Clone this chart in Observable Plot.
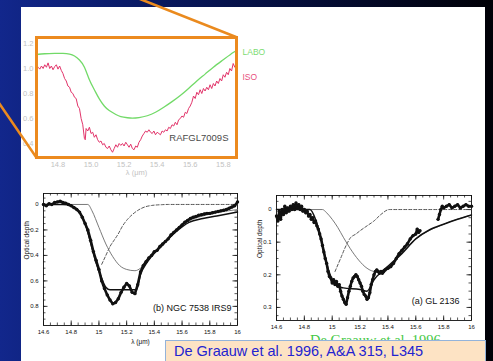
<!DOCTYPE html>
<html><head><meta charset="utf-8">
<script src="https://cdn.jsdelivr.net/npm/d3@7"></script>
<script src="https://cdn.jsdelivr.net/npm/@observablehq/plot@0.6"></script>
<style>
html,body{margin:0;padding:0;background:#000;}
#page{position:relative;width:493px;height:361px;overflow:hidden;background:linear-gradient(to right,#12278c 0%,#0a1b68 25%,#040c34 65%,#000006 100%);font-family:"Liberation Sans",Arial,sans-serif;}
#panel{position:absolute;left:21px;top:7px;width:464px;height:354px;background:#fff;}
.pl{position:absolute;}
#cap{position:absolute;left:165px;top:340px;width:321px;height:30px;background:#fde3c4;border:1px solid #93b3da;box-sizing:border-box;color:#2323d0;font-size:14.5px;line-height:16px;padding:2px 0 0 8px;white-space:nowrap;}
#ghost{position:absolute;left:310px;top:332px;font:14.5px "Liberation Serif",serif;line-height:16px;color:#44c844;white-space:nowrap;}
#conn{position:absolute;left:0;top:0;}
</style></head><body>
<div id="page">
<div id="panel"></div>
<div id="top" class="pl" style="left:0;top:0"></div>
<div id="ngc" class="pl" style="left:0;top:185px"></div>
<div id="gl" class="pl" style="left:245px;top:185px"></div>
<div id="ghost">De Graauw et al. 1996</div>
<div id="cap">De Graauw et al. 1996, A&amp;A 315, L345</div>
<svg id="conn" width="493" height="361"><g stroke="#ea8a1e" stroke-width="2.5" stroke-linecap="round"><line x1="140" y1="-1" x2="236" y2="37"/><line x1="-1" y1="103" x2="36" y2="157"/></g></svg>
</div>
<script>
// ---- Top inset: RAFGL7009S ----
const laboX = [14.67,14.72,14.78,14.83,14.87,14.90,14.93,14.96,14.99,15.02,15.05,15.08,15.11,15.15,15.18,15.22,15.25,15.29,15.34,15.39,15.44,15.49,15.54,15.59,15.64,15.69,15.74,15.80,15.86,15.88];
const laboY = [1.112,1.118,1.121,1.121,1.115,1.100,1.068,1.01,0.91,0.83,0.757,0.70,0.664,0.632,0.615,0.606,0.603,0.607,0.622,0.650,0.690,0.735,0.784,0.840,0.900,0.955,1.010,1.070,1.128,1.14];
const isoX = [14.67,14.68,14.69,14.70,14.71,14.72,14.73,14.74,14.75,14.76,14.77,14.78,14.79,14.80,14.81,14.82,14.83,14.84,14.85,14.86,14.87,14.88,14.89,14.90,14.91,14.92,14.93,14.94,14.95,14.96,14.965,14.97,14.98,14.99,15.00,15.01,15.02,15.03,15.04,15.05,15.06,15.07,15.08,15.09,15.10,15.11,15.12,15.13,15.14,15.15,15.16,15.17,15.18,15.19,15.20,15.21,15.22,15.23,15.24,15.25,15.26,15.27,15.28,15.29,15.30,15.31,15.32,15.33,15.34,15.35,15.36,15.37,15.38,15.39,15.40,15.41,15.42,15.43,15.44,15.45,15.46,15.47,15.48,15.49,15.50,15.51,15.52,15.53,15.54,15.55,15.56,15.57,15.58,15.59,15.60,15.61,15.62,15.63,15.64,15.65,15.66,15.67,15.68,15.69,15.70,15.71,15.72,15.73,15.74,15.75,15.76,15.77,15.78,15.79,15.80,15.81,15.82,15.83,15.84,15.85,15.86,15.87];
const isoY = [1.00,1.01,0.995,1.02,1.00,1.03,1.01,1.045,1.00,1.02,0.99,1.015,1.03,0.995,1.02,0.985,0.96,0.92,0.90,0.86,0.85,0.81,0.80,0.77,0.76,0.70,0.68,0.60,0.55,0.44,0.43,0.52,0.50,0.53,0.48,0.49,0.45,0.47,0.43,0.41,0.42,0.39,0.40,0.37,0.36,0.38,0.35,0.33,0.36,0.39,0.37,0.40,0.385,0.40,0.38,0.41,0.39,0.37,0.395,0.36,0.35,0.38,0.37,0.41,0.43,0.46,0.48,0.50,0.49,0.51,0.49,0.48,0.50,0.47,0.49,0.48,0.47,0.50,0.49,0.51,0.50,0.53,0.52,0.55,0.54,0.57,0.55,0.59,0.60,0.62,0.61,0.65,0.64,0.68,0.70,0.73,0.78,0.76,0.81,0.79,0.83,0.80,0.84,0.82,0.85,0.83,0.87,0.84,0.88,0.86,0.90,0.88,0.92,0.90,0.95,0.93,0.97,0.95,1.00,0.98,1.04,1.01];
const topXTicks = [14.8,15.0,15.2,15.4,15.6,15.8];
const topYTicks = [0.4,0.6,0.8,1.0,1.2];

// ---- (b) NGC 7538 IRS9 ----
const ngcX = [14.60,14.62,14.64,14.66,14.68,14.70,14.72,14.74,14.76,14.78,14.80,14.82,14.84,14.86,14.88,14.90,14.92,14.94,14.96,14.98,15.00,15.02,15.04,15.06,15.08,15.10,15.12,15.14,15.16,15.18,15.20,15.22,15.24,15.26,15.28,15.30,15.32,15.34,15.36,15.38,15.40,15.42,15.44,15.46,15.48,15.50,15.52,15.54,15.56,15.58,15.60,15.62,15.64,15.66,15.68,15.70,15.72,15.74,15.76,15.78,15.80,15.82,15.84,15.86,15.88,15.90,15.92,15.94,15.96,15.98,16.00];
const ngcY = [0.00,0.01,-0.005,0.00,-0.015,-0.02,-0.025,-0.015,-0.01,0.00,0.01,0.025,0.04,0.06,0.10,0.15,0.20,0.28,0.37,0.44,0.51,0.60,0.66,0.71,0.75,0.78,0.77,0.74,0.69,0.65,0.62,0.64,0.69,0.70,0.63,0.53,0.48,0.45,0.42,0.40,0.37,0.36,0.33,0.31,0.29,0.27,0.24,0.22,0.20,0.18,0.16,0.14,0.125,0.11,0.10,0.095,0.085,0.08,0.075,0.07,0.07,0.065,0.06,0.055,0.05,0.045,0.04,0.03,0.02,0.01,-0.02];
const ngcFitX = [14.60,14.74,14.80,14.86,14.90,14.94,14.98,15.02,15.05,15.08,15.27,15.30,15.35,15.45,15.55,15.65,15.75,15.85,16.00];
const ngcFitY = [0,0,0.01,0.06,0.15,0.30,0.46,0.58,0.65,0.67,0.67,0.55,0.45,0.33,0.22,0.14,0.11,0.09,0.06];
const ngcThinX = [14.60,14.92,14.95,15.00,15.05,15.10,15.15,15.20,15.26,15.30,15.35,15.45,15.55,15.65,15.75,15.85,16.00];
const ngcThinY = [0,0,0.05,0.18,0.31,0.41,0.48,0.51,0.52,0.50,0.44,0.32,0.21,0.13,0.09,0.065,0.04];
const ngcDashX = [15.02,15.05,15.08,15.11,15.14,15.17,15.20,15.24,15.28,15.33,15.38,15.45,15.50,16.00];
const ngcDashY = [0.47,0.40,0.33,0.28,0.23,0.17,0.125,0.08,0.047,0.02,0.008,0.002,0,0];
const ngcYTicks = [0,0.2,0.4,0.6,0.8];

// ---- (a) GL 2136 ----
const glX = [14.60,14.61,14.62,14.63,14.64,14.65,14.66,14.67,14.68,14.69,14.70,14.71,14.72,14.73,14.74,14.75,14.76,14.77,14.78,14.79,14.80,14.81,14.82,14.83,14.84,14.85,14.86,14.87,14.88,14.89,14.90,14.91,14.92,14.93,14.94,14.95,14.96,14.97,14.98,14.99,15.00,15.01,15.02,15.03,15.04,15.05,15.06,15.07,15.08,15.09,15.10,15.11,15.12,15.13,15.14,15.15,15.16,15.17,15.18,15.19,15.20,15.21,15.22,15.23,15.24,15.25,15.26,15.27,15.28,15.29,15.30,15.31,15.32,15.33,15.34,15.35,15.36,15.37,15.38,15.40,15.42,15.44,15.46,15.48,15.50,15.52,15.54,15.56,15.58,15.60,15.61,15.62,15.63,15.70,15.76,15.77,15.78,15.79,15.80,15.82,15.84,15.86,15.88,15.90,15.92,15.94,15.96,15.98,16.00];
const glY = [0.02,0.035,0.005,0.03,0.00,0.015,-0.01,0.01,-0.005,0.005,-0.01,0.00,-0.015,0.00,-0.02,-0.005,-0.015,0.00,-0.01,0.005,0.00,0.01,0.005,0.02,0.015,0.03,0.025,0.04,0.035,0.05,0.06,0.075,0.09,0.11,0.13,0.15,0.165,0.19,0.205,0.21,0.225,0.215,0.23,0.22,0.235,0.23,0.25,0.265,0.275,0.285,0.29,0.27,0.25,0.235,0.22,0.21,0.205,0.20,0.205,0.215,0.225,0.235,0.25,0.26,0.265,0.275,0.27,0.255,0.23,0.215,0.20,0.19,0.185,0.19,0.195,0.19,0.195,0.19,0.185,0.18,0.175,0.165,0.15,0.135,0.125,0.115,0.105,0.09,0.08,0.075,0.06,0.07,0.065,null,0.03,0.015,0.00,-0.01,-0.005,-0.01,-0.015,-0.005,-0.01,-0.015,-0.005,-0.01,-0.015,-0.01,-0.01];
const glFitX = [14.60,14.84,14.88,14.92,14.96,15.00,15.04,15.08,15.20,15.25,15.30,15.37,15.45,15.50,15.60,15.70,15.80,15.90,16.00];
const glFitY = [0,0,0.03,0.09,0.165,0.215,0.235,0.24,0.245,0.25,0.215,0.185,0.155,0.135,0.09,0.062,0.045,0.03,0.017];
const glThinX = [14.60,14.93,14.96,15.00,15.04,15.08,15.13,15.19,15.25,15.31,15.37,15.45,15.60,15.80,16.00];
const glThinY = [0,0,0.01,0.03,0.055,0.085,0.12,0.155,0.18,0.19,0.185,0.155,0.09,0.045,0.017];
const glDashX = [15.02,15.06,15.10,15.13,15.17,15.20,15.25,15.30,15.35,15.41,15.76,16.00];
const glDashY = [0.19,0.15,0.11,0.087,0.075,0.065,0.05,0.035,0.015,0.0,0.0,0.0];
const glYTicks = [0,0.1,0.2,0.3];

const lowerXTicks = [14.6,14.8,15,15.2,15.4,15.6,15.8,16];

const zip = (xs, ys) => xs.map((x, i) => ({x, y: ys[i]}));
const fmtX = d => String(Math.round(d * 10) / 10);

// Top inset
const topPlot = Plot.plot({
  width: 270, height: 180, marginLeft: 36, marginRight: 34, marginTop: 37, marginBottom: 23,
  style: {background: "transparent", fontFamily: "Liberation Sans, Arial, sans-serif", fontSize: "7.5px", color: "#c2c2c2", overflow: "visible"},
  x: {domain: [14.67, 15.88], ticks: topXTicks, tickFormat: d => d.toFixed(1), tickSize: 0, tickPadding: 4, label: null},
  y: {domain: [0.288, 1.248], ticks: topYTicks, tickFormat: d => d.toFixed(1), tickSize: 0, tickPadding: 3, label: null},
  marks: [
    Plot.line(zip(laboX, laboY), {x: "x", y: "y", stroke: "#72da68", strokeWidth: 1.3, curve: "natural"}),
    Plot.line(zip(isoX, isoY), {x: "x", y: "y", stroke: "#e2346a", strokeWidth: 1}),
    Plot.text(["RAFGL7009S"], {text: d => d, frameAnchor: "bottom-right", dx: -8, dy: -17, textAnchor: "end", fill: "#4a4a4a", fontSize: 9.5}),
    Plot.text(["LABO"], {text: d => d, frameAnchor: "top-right", dx: 6, dy: 11, textAnchor: "start", fill: "#7ddc72", fontSize: 8.5}),
    Plot.text(["ISO"], {text: d => d, frameAnchor: "top-right", dx: 6, dy: 36, textAnchor: "start", fill: "#e8507e", fontSize: 8.5}),
    Plot.text(["λ (μm)"], {text: d => d, frameAnchor: "bottom", dy: 17.5, fill: "#c2c2c2", fontSize: 7.5}),
    Plot.frame({stroke: "#ec8a1f", strokeWidth: 3})
  ]
});
document.getElementById("top").appendChild(topPlot);

function lowerPanel({w, h, ml, mr, mt, mb, yDomain, yTicks, yMinorStep, obsX, obsY, fitX, fitY, thinX, thinY, dashX, dashY, label, labelDx, labelDy, xLabel}) {
  const iw = w - ml - mr, ih = h - mt - mb;
  const xMinor = d3.range(14.6, 16.0001, 0.05);
  const yMinor = d3.range(Math.ceil(yDomain[0] / yMinorStep) * yMinorStep, yDomain[1], yMinorStep);
  const marks = [
    Plot.frame({stroke: "#111", strokeWidth: 0.9}),
    Plot.tickX(xMinor, {x: d => d, insetTop: ih - 2.5, stroke: "#111", strokeWidth: 0.7}),
    Plot.tickX(xMinor, {x: d => d, insetBottom: ih - 2.5, stroke: "#111", strokeWidth: 0.7}),
    Plot.tickX(lowerXTicks, {x: d => d, insetTop: ih - 4.5, stroke: "#111", strokeWidth: 0.8}),
    Plot.tickX(lowerXTicks, {x: d => d, insetBottom: ih - 4.5, stroke: "#111", strokeWidth: 0.8}),
    Plot.tickY(yMinor, {y: d => d, insetRight: iw - 2.5, stroke: "#111", strokeWidth: 0.7}),
    Plot.tickY(yMinor, {y: d => d, insetLeft: iw - 2.5, stroke: "#111", strokeWidth: 0.7}),
    Plot.tickY(yTicks, {y: d => d, insetRight: iw - 4.5, stroke: "#111", strokeWidth: 0.8}),
    Plot.tickY(yTicks, {y: d => d, insetLeft: iw - 4.5, stroke: "#111", strokeWidth: 0.8}),
    Plot.line(zip(dashX, dashY), {x: "x", y: "y", stroke: "#444", strokeWidth: 0.9, strokeDasharray: "3,2", curve: "monotone-x"}),
    Plot.line(zip(thinX, thinY), {x: "x", y: "y", stroke: "#6a6a6a", strokeWidth: 0.9, curve: "monotone-x"}),
    Plot.line(zip(obsX, obsY), {x: "x", y: "y", stroke: "#111", strokeWidth: 2.6}),
    Plot.dot(zip(obsX, obsY).filter(d => d.y != null), {x: "x", y: "y", r: 1.7, fill: "#111"}),
    Plot.line(zip(fitX, fitY), {x: "x", y: "y", stroke: "#111", strokeWidth: 1.5, curve: "monotone-x"}),
    Plot.text([label], {text: d => d, frameAnchor: "bottom-right", dx: labelDx, dy: labelDy, textAnchor: "end", fill: "#111", fontSize: 9}),
    Plot.text(["Optical depth"], {text: d => d, frameAnchor: "left", rotate: -90, dx: -17, fill: "#111", fontSize: 6.5})
  ];
  if (xLabel) marks.push(Plot.text(["λ (μm)"], {text: d => d, frameAnchor: "bottom", dy: 18, fill: "#111", fontSize: 6.5}));
  return Plot.plot({
    width: w, height: h, marginLeft: ml, marginRight: mr, marginTop: mt, marginBottom: mb,
    style: {background: "transparent", fontFamily: "Liberation Sans, Arial, sans-serif", fontSize: "6px", color: "#111", overflow: "visible"},
    x: {domain: [14.6, 16], ticks: lowerXTicks, tickFormat: fmtX, tickSize: 0, tickPadding: 4, label: null},
    y: {domain: yDomain, reverse: true, ticks: yTicks, tickFormat: d => d === 0 ? "0" : d.toFixed(1), tickSize: 0, tickPadding: 5, label: null},
    marks
  });
}

document.getElementById("ngc").appendChild(lowerPanel({
  w: 245, h: 176, ml: 43, mr: 8, mt: 8, mb: 36, yDomain: [-0.086, 0.95], yTicks: ngcYTicks, yMinorStep: 0.05,
  obsX: ngcX, obsY: ngcY, fitX: ngcFitX, fitY: ngcFitY, thinX: ngcThinX, thinY: ngcThinY, dashX: ngcDashX, dashY: ngcDashY,
  label: "(b) NGC 7538 IRS9", labelDx: -6, labelDy: -15, xLabel: true
}));
document.getElementById("gl").appendChild(lowerPanel({
  w: 240, h: 176, ml: 31, mr: 14, mt: 10, mb: 41, yDomain: [-0.043, 0.34], yTicks: glYTicks, yMinorStep: 0.025,
  obsX: glX, obsY: glY, fitX: glFitX, fitY: glFitY, thinX: glThinX, thinY: glThinY, dashX: glDashX, dashY: glDashY,
  label: "(a) GL 2136", labelDx: -12, labelDy: -17, xLabel: false
}));
</script>
</body></html>
